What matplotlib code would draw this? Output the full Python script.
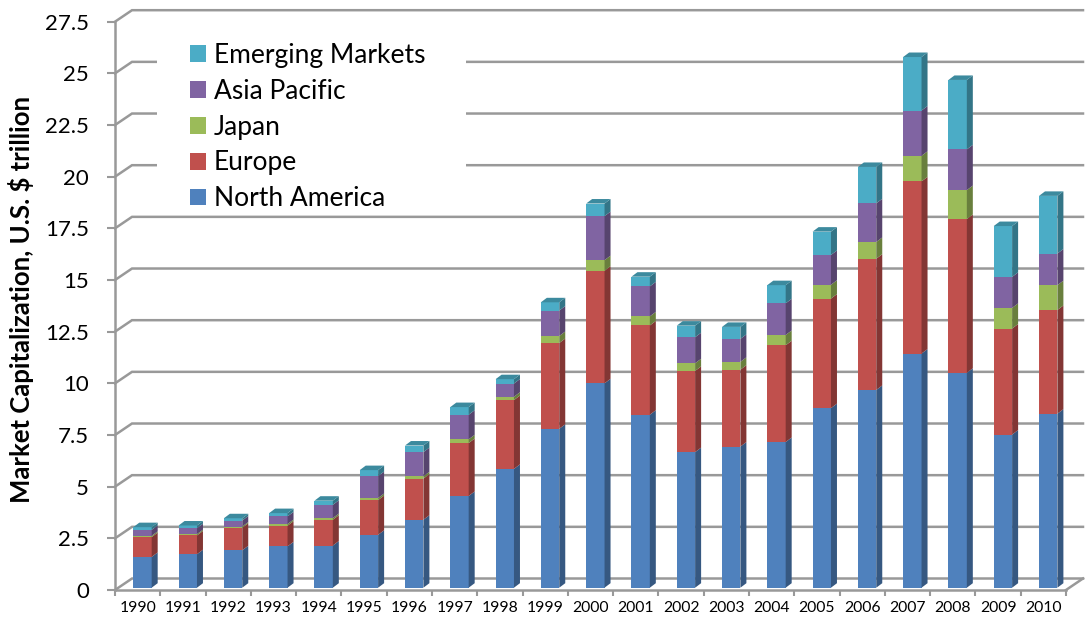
import matplotlib
matplotlib.use("Agg")
import matplotlib.pyplot as plt
from matplotlib.patches import Polygon, Rectangle
from matplotlib.transforms import Affine2D
from matplotlib.colors import to_rgb

# Market capitalization by region, U.S. $ trillion
years = [str(y) for y in range(1990, 2011)]
north_america = [1.49, 1.62, 1.81, 2.00, 2.04, 2.56, 3.29, 4.44, 5.75, 7.69, 9.89,
                 8.37, 6.56, 6.83, 7.05, 8.69, 9.57, 11.33, 10.40, 7.41, 8.42]
europe = [0.96, 0.91, 1.09, 1.00, 1.25, 1.68, 1.99, 2.56, 3.33, 4.15, 5.45,
          4.32, 3.93, 3.72, 4.68, 5.30, 6.35, 8.33, 7.44, 5.13, 5.02]
japan = [0.06, 0.06, 0.06, 0.08, 0.08, 0.10, 0.11, 0.18, 0.16, 0.34, 0.51,
         0.44, 0.37, 0.38, 0.50, 0.67, 0.81, 1.24, 1.40, 1.00, 1.20]
asia_pacific = [0.29, 0.29, 0.29, 0.37, 0.64, 1.06, 1.17, 1.19, 0.64, 1.23, 2.13,
                1.45, 1.26, 1.11, 1.53, 1.44, 1.87, 2.19, 1.97, 1.50, 1.53]
emerging_markets = [0.13, 0.13, 0.11, 0.16, 0.20, 0.29, 0.32, 0.37, 0.21, 0.40, 0.61,
                    0.47, 0.56, 0.58, 0.88, 1.13, 1.76, 2.59, 3.36, 2.46, 2.79]

series_names = ["North America", "Europe", "Japan", "Asia Pacific", "Emerging Markets"]
series_values = [north_america, europe, japan, asia_pacific, emerging_markets]
series_colors = ["#4F81BD", "#C0504D", "#9BBB59", "#8064A2", "#4BACC6"]
y_ticks = [0, 2.5, 5, 7.5, 10, 12.5, 15, 17.5, 20, 22.5, 25, 27.5]
y_tick_labels = ["0", "2.5", "5", "7.5", "10", "12.5", "15", "17.5", "20", "22.5", "25", "27.5"]

plt.rcParams["font.family"] = ["Lato", "DejaVu Sans"]

W, H = 1086, 624
fig = plt.figure(figsize=(W / 100, H / 100), dpi=100)
left_px, right_px, bottom_px, top_px = 115, 1066, 590, 21.7
ax = fig.add_axes([left_px / W, 1 - bottom_px / H,
                   (right_px - left_px) / W, (bottom_px - top_px) / H])
n = len(years)
ax.set_xlim(0, n)
ax.set_ylim(0, 27.5)
px_x = (right_px - left_px) / n
px_y = (bottom_px - top_px) / 27.5

grid_c = "#999999"
# back wall / floor depth offset and bar depth, in data units
wall_dx, wall_dy = 17 / px_x, 11.5 / px_y
bar_dx, bar_dy = 6 / px_x, 4.5 / px_y

# gridlines on the back wall with their left-wall diagonals
for v in y_ticks:
    ax.plot([0, wall_dx, n + wall_dx], [v, v + wall_dy, v + wall_dy], color=grid_c,
            lw=1.8, clip_on=False, zorder=1, solid_joinstyle="miter")
ax.plot([n, n + wall_dx], [0, wall_dy], color=grid_c, lw=1.8, clip_on=False, zorder=1)

# bars sit slightly behind the front edge of the floor
bar_trans = ax.transData + Affine2D().translate(0, 2.3)
bar_left, bar_w = 0.404, 0.406


def shade(c, f):
    r, g, b = to_rgb(c)
    return (r * f, g * f, b * f)


for i in range(n):
    xl = i + bar_left
    xr = xl + bar_w
    base = 0.0
    for k, (vals, col) in enumerate(zip(series_values, series_colors)):
        v = vals[i]
        top = base + v
        rect = ax.bar(xl, v, width=bar_w, bottom=base, align="edge", color=col,
                      linewidth=0, zorder=3)[0]
        rect.set_transform(bar_trans)
        side = Polygon([(xr, base), (xr + bar_dx, base + bar_dy),
                        (xr + bar_dx, top + bar_dy), (xr, top)], closed=True,
                       facecolor=shade(col, 0.68), edgecolor="none", zorder=3,
                       transform=bar_trans)
        ax.add_patch(side)
        if k == len(series_values) - 1:
            lid = Polygon([(xl, top), (xr, top), (xr + bar_dx, top + bar_dy),
                           (xl + bar_dx, top + bar_dy)], closed=True,
                          facecolor=shade(col, 0.8), edgecolor="none", zorder=3,
                          transform=bar_trans)
            ax.add_patch(lid)
        base = top

# axes styling
for s in ["top", "right"]:
    ax.spines[s].set_visible(False)
for s in ["left", "bottom"]:
    ax.spines[s].set_color(grid_c)
    ax.spines[s].set_linewidth(1.8)
ax.set_yticks(y_ticks)
ax.set_yticklabels(y_tick_labels, fontsize=16)
ax.tick_params(axis="y", length=5.8, width=1.5, color=grid_c, pad=13)
ax.set_xticks([i + 0.5 for i in range(n)])
ax.set_xticklabels(years, fontsize=11.3)
ax.set_xticks(range(n + 1), minor=True)
ax.tick_params(axis="x", which="major", length=0, pad=8)
ax.tick_params(axis="x", which="minor", length=4.5, width=1.5, color=grid_c)
ax.set_facecolor("none")

fig.text(21 / W, 1 - 299 / H, "Market Capitalization, U.S. $ trillion", rotation=90,
         ha="center", va="center", fontsize=18.5, fontweight="bold")

# legend on a white panel that hides the gridlines behind it
ax.add_patch(Rectangle((157 / W, 1 - 209 / H), (466 - 157) / W, (209 - 30) / H,
                       transform=fig.transFigure, facecolor="white", edgecolor="none",
                       zorder=2, clip_on=False))
handles = [Rectangle((0, 0), 1, 1, facecolor=c, edgecolor="none") for c in series_colors]
leg = fig.legend(handles[::-1], series_names[::-1], loc="upper left",
                 bbox_to_anchor=(190 / W, 1 - 43 / H), frameon=False, fontsize=19,
                 handlelength=0.6, handleheight=0.6, handletextpad=0.3,
                 labelspacing=0.41, borderpad=0, borderaxespad=0)

fig.savefig("out.png", dpi=100)
